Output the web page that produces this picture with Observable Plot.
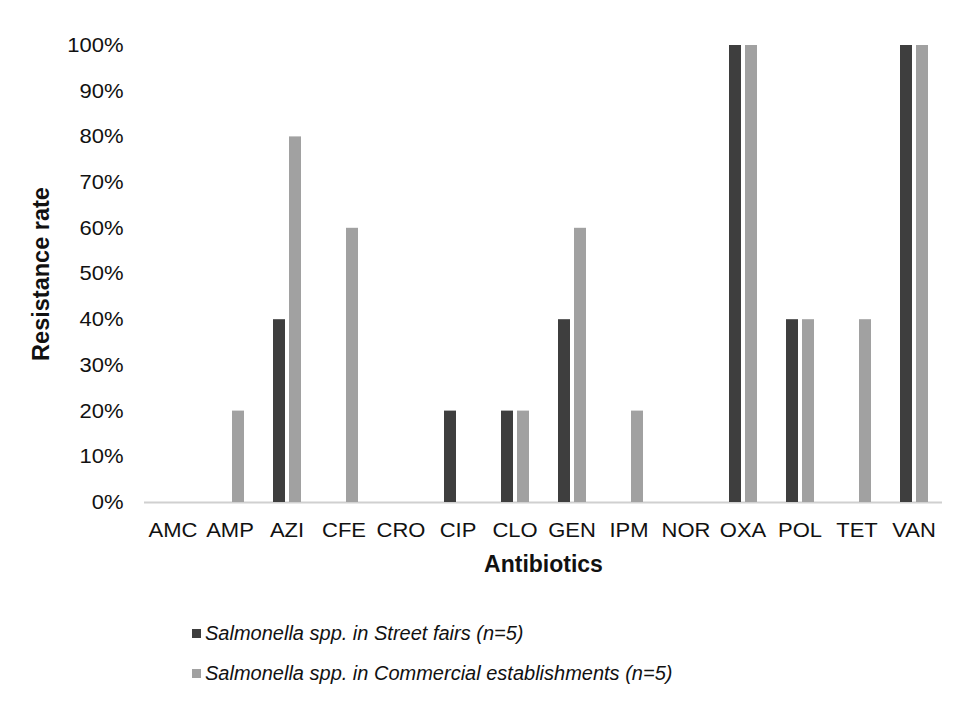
<!DOCTYPE html>
<html>
<head>
<meta charset="utf-8">
<script src="https://cdn.jsdelivr.net/npm/d3@7"></script>
<script src="https://cdn.jsdelivr.net/npm/@observablehq/plot@0.6"></script>
<style>
  html, body { margin: 0; padding: 0; background: #fff; }
  body { width: 964px; height: 719px; font-family: "Liberation Sans", Arial, sans-serif; }
  #chart svg { display: block; }
  #chart g[aria-label="y-axis label"] { font-weight: bold; font-size: 23.5px; }
  #chart g[aria-label="fx-axis label"] { font-weight: bold; font-size: 23px; }
  .legend { margin-left: 192px; margin-top: 23px; font-size: 20px; font-style: italic; color: #111; }
  .legend .item { display: flex; align-items: center; height: 40px; }
  .legend .sw { width: 9px; height: 9px; margin-right: 4px; }
</style>
</head>
<body>
<div id="chart"></div>
<script>
const categories = ["AMC","AMP","AZI","CFE","CRO","CIP","CLO","GEN","IPM","NOR","OXA","POL","TET","VAN"];
const seriesNames = ["Salmonella spp. in Street fairs (n=5)", "Salmonella spp. in Commercial establishments (n=5)"];
const streetFairs = [0,0,40,0,0,20,20,40,0,0,100,40,0,100];
const commercial = [0,20,80,60,0,0,20,60,20,0,100,40,40,100];
const yTicks = [0,10,20,30,40,50,60,70,80,90,100];
const colors = ["#3e3e3e", "#a1a1a1"];

const data = [];
categories.forEach((c, i) => {
  data.push({cat: c, series: seriesNames[0], value: streetFairs[i]});
  data.push({cat: c, series: seriesNames[1], value: commercial[i]});
});

const plot = Plot.plot({
  width: 964,
  height: 590,
  marginLeft: 141,
  marginRight: 20,
  marginTop: 45,
  marginBottom: 88,
  style: {fontSize: "20px", fontFamily: "'Liberation Sans', Arial, sans-serif", color: "#111", background: "transparent"},
  fx: {domain: categories, padding: 0, label: "Antibiotics", axis: "bottom", tickSize: 0, tickPadding: 20, labelAnchor: "center", labelOffset: 69},
  x: {domain: seriesNames, paddingInner: 0.25, paddingOuter: 0.9, axis: null},
  y: {domain: [0, 100], ticks: yTicks, tickFormat: d => d + "%", tickSize: 0, tickPadding: 21, label: "Resistance rate", labelArrow: "none", labelAnchor: "center", labelOffset: 112},
  color: {domain: seriesNames, range: colors},
  marks: [
    Plot.ruleY([0], {stroke: "#d0d0d0", strokeWidth: 2}),
    Plot.barY(data, {fx: "cat", x: "series", y: "value", fill: "series"})
  ]
});
document.getElementById("chart").appendChild(plot);

// the reference's tick labels are slightly wider than the font's natural width
d3.select(plot).selectAll('g[aria-label="y-axis tick label"] text, g[aria-label="fx-axis tick label"] text').each(function() {
  const t = this.getAttribute("transform");
  if (t) this.setAttribute("transform", t + " scale(1.1,1)");
});

const legend = d3.select("body").append("div").attr("class", "legend");
seriesNames.forEach((s, i) => {
  const it = legend.append("div").attr("class", "item");
  it.append("div").attr("class", "sw").style("background", colors[i]);
  it.append("span").text(s);
});
</script>
</body>
</html>
